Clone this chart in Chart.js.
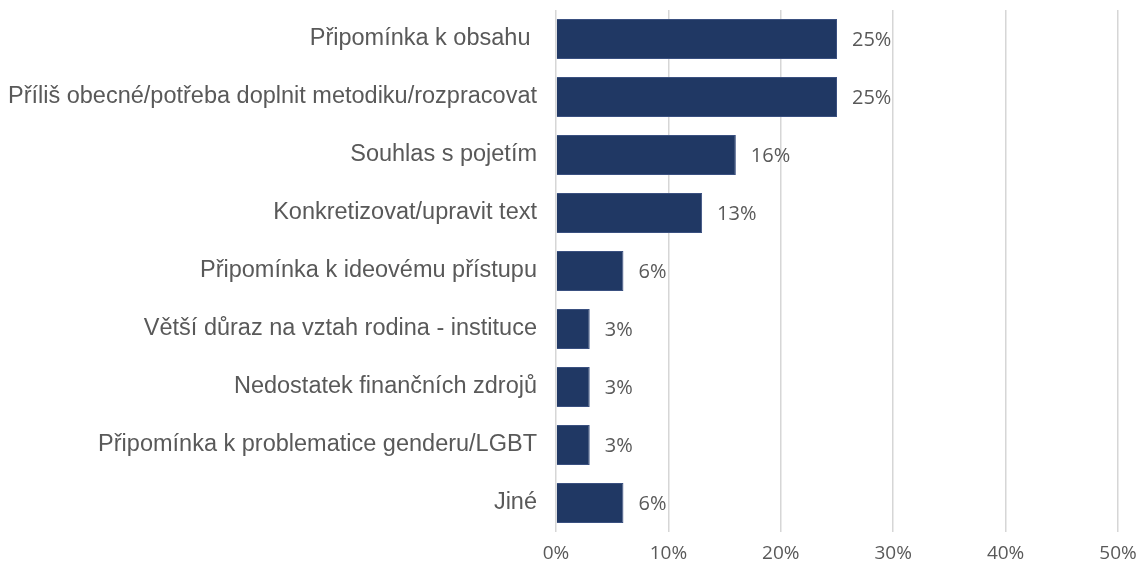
<!DOCTYPE html>
<html>
<head>
<meta charset="utf-8">
<script src="https://cdn.jsdelivr.net/npm/chart.js@4"></script>
<style>
  html, body { margin: 0; padding: 0; background: #fff; }
  #wrap { width: 1139px; height: 570px; }
</style>
</head>
<body>
<div id="wrap"><canvas id="chart"></canvas></div>
<script>
const categories = [
  'Připomínka k obsahu ',
  'Příliš obecné/potřeba doplnit metodiku/rozpracovat',
  'Souhlas s pojetím',
  'Konkretizovat/upravit text',
  'Připomínka k ideovému přístupu',
  'Větší důraz na vztah rodina - instituce',
  'Nedostatek finančních zdrojů',
  'Připomínka k problematice genderu/LGBT',
  'Jiné'
];
const shares = [25, 25, 16, 13, 6, 3, 3, 3, 6];
const tickLabels = ['0%', '10%', '20%', '30%', '40%', '50%'];

// draw the percentage next to each bar
const valueLabels = {
  id: 'valueLabels',
  afterDatasetsDraw(chart) {
    const ctx = chart.ctx;
    const meta = chart.getDatasetMeta(0);
    ctx.save();
    ctx.font = '20px "Open Sans"';
    ctx.fillStyle = '#595959';
    ctx.textAlign = 'left';
    ctx.textBaseline = 'middle';
    meta.data.forEach((bar, i) => {
      ctx.fillText(shares[i] + '%', bar.x + 15, bar.y + 1);
    });
    ctx.restore();
  }
};

new Chart(document.getElementById('chart'), {
  type: 'bar',
  data: {
    labels: categories,
    datasets: [{
      data: shares,
      backgroundColor: '#203864',
      borderColor: '#3a5080',
      borderWidth: 1,
      barPercentage: 0.69,
      categoryPercentage: 1
    }]
  },
  options: {
    indexAxis: 'y',
    responsive: true,
    maintainAspectRatio: false,
    animation: false,
    layout: { autoPadding: false, padding: { top: 10, right: 21, left: 0, bottom: 0 } },
    plugins: {
      legend: { display: false },
      tooltip: { enabled: false }
    },
    scales: {
      x: {
        min: 0,
        max: 50,
        border: { display: false },
        grid: { color: '#d6d6d6', lineWidth: 1.5, drawTicks: false },
        afterFit: (s) => { s.height = 38; s.paddingLeft = 0; s.paddingRight = 0; },
        ticks: {
          stepSize: 10,
          padding: 10,
          color: '#595959',
          font: { family: 'Open Sans', size: 19 },
          callback: (v, i) => tickLabels[i]
        }
      },
      y: {
        border: { display: false },
        grid: { display: false, drawTicks: false },
        afterFit: (s) => { s.width = 556; s.paddingTop = 0; s.paddingBottom = 0; },
        ticks: {
          padding: 19,
          color: '#595959',
          font: { family: 'Liberation Sans', size: 23.5 }
        }
      }
    }
  },
  plugins: [valueLabels]
});
</script>
</body>
</html>
